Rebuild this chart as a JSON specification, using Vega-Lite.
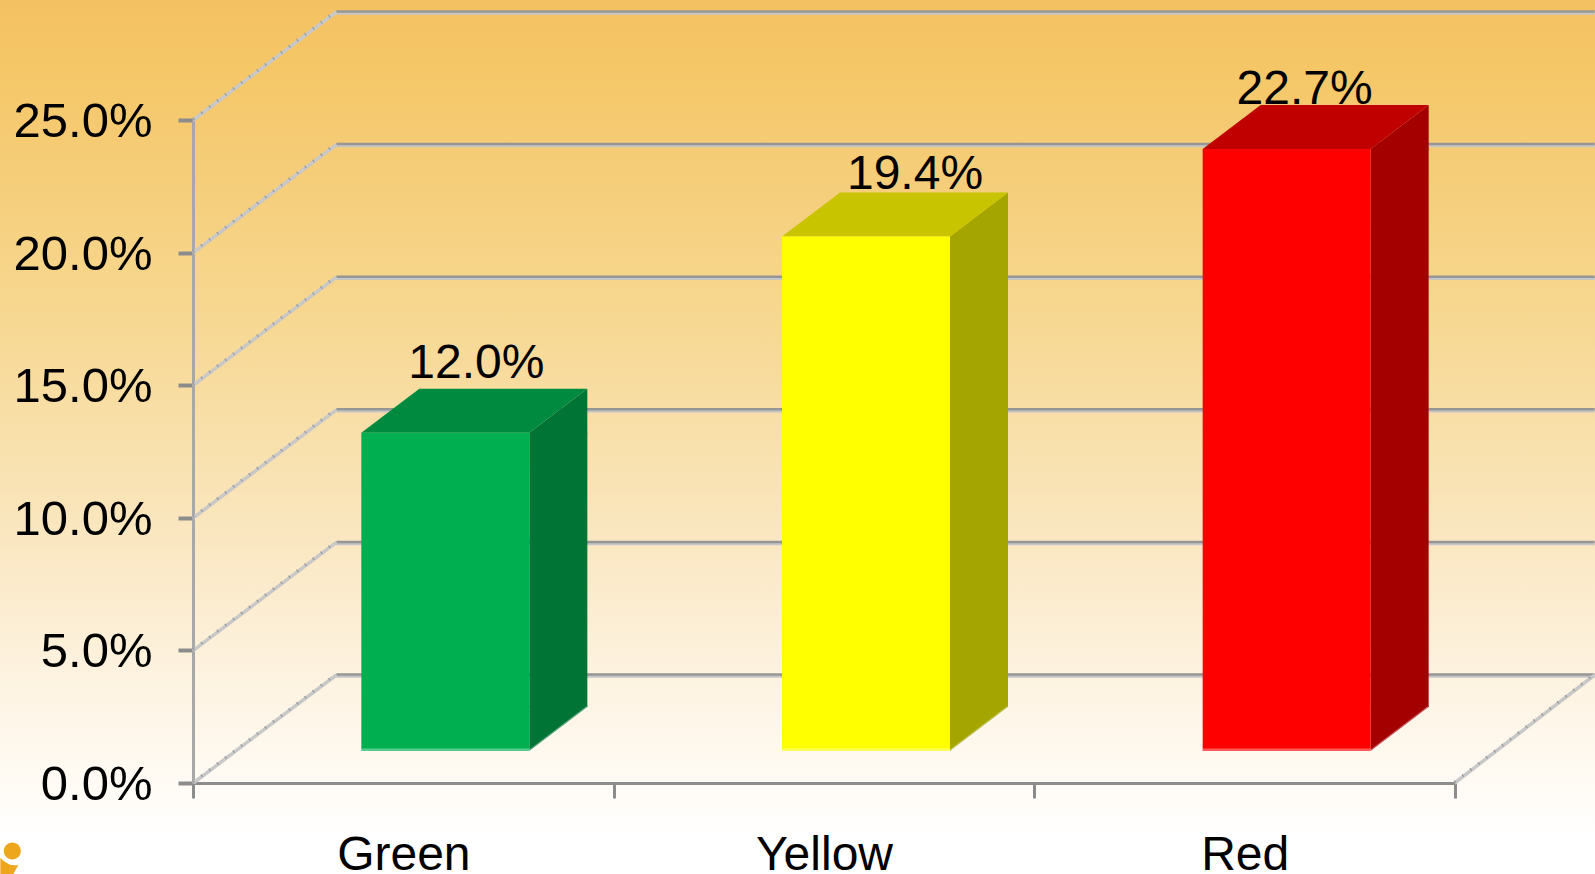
{
"$schema":"https://vega.github.io/schema/vega-lite/v6.json",
"width":1595,"height":874,"padding":0,"autosize":{"type":"none"},
"config":{"view":{"stroke":null,"fill":{"gradient":"linear","x1":0,"y1":0,"x2":0,"y2":1,"stops":[{"offset":0,"color":"#f4c162"},{"offset":0.08,"color":"#f5c767"},{"offset":0.15,"color":"#f5ca72"},{"offset":0.35,"color":"#f7d78f"},{"offset":0.6,"color":"#fae6be"},{"offset":0.75,"color":"#fdf1dc"},{"offset":0.9,"color":"#fffbf5"},{"offset":0.96,"color":"#ffffff"},{"offset":1,"color":"#ffffff"}]}},"font":"Liberation Sans"},
"datasets":{
"bars":[{"band":"Green","share":0.12},{"band":"Yellow","share":0.194},{"band":"Red","share":0.227}],
"ticks":[{"tick":0},{"tick":0.05},{"tick":0.1},{"tick":0.15},{"tick":0.2},{"tick":0.25}]
},
"data":{"name":"bars"},
"resolve":{"scale":{"color":"independent"}},
"layer":[
{"data":{"name":"ticks"},"mark":{"type":"rule","stroke":"#c6c6c6","strokeWidth":2.5,"xOffset":-67,"x2Offset":350,"yOffset":-106.5,"y2Offset":-106.5},
 "encoding":{"x":{"datum":"Green","type":"nominal"},"x2":{"datum":"Red"},"y":{"field":"tick","type":"quantitative"},"y2":{"field":"tick"}}},
{"data":{"name":"ticks"},"mark":{"type":"rule","stroke":"#969696","strokeWidth":2.5,"xOffset":-67,"x2Offset":350,"yOffset":-108.5,"y2Offset":-108.5},
 "encoding":{"x":{"datum":"Green","type":"nominal"},"x2":{"datum":"Red"},"y":{"field":"tick","type":"quantitative"},"y2":{"field":"tick"}}},
{"data":{"name":"ticks"},"mark":{"type":"rule","stroke":"#c8c8c8","strokeWidth":3.5,"xOffset":-210,"x2Offset":-67,"y2Offset":-108},
 "encoding":{"x":{"datum":"Green","type":"nominal"},"x2":{"datum":"Green"},"y":{"field":"tick","type":"quantitative"},"y2":{"field":"tick"}}},
{"data":{"name":"ticks"},"mark":{"type":"rule","stroke":"#8f8f8f","strokeWidth":3,"strokeDash":[1,9],"xOffset":-210,"x2Offset":-67,"yOffset":-1,"y2Offset":-109},
 "encoding":{"x":{"datum":"Green","type":"nominal"},"x2":{"datum":"Green"},"y":{"field":"tick","type":"quantitative"},"y2":{"field":"tick"}}},
{"data":{"values":[{"tick":0}]},"mark":{"type":"rule","stroke":"#c8c8c8","strokeWidth":3.5,"xOffset":210,"x2Offset":350,"y2Offset":-108},
 "encoding":{"x":{"datum":"Red","type":"nominal"},"x2":{"datum":"Red"},"y":{"field":"tick","type":"quantitative"},"y2":{"field":"tick"}}},
{"data":{"values":[{"tick":0}]},"mark":{"type":"rule","stroke":"#8f8f8f","strokeWidth":3,"strokeDash":[1,9],"xOffset":210,"x2Offset":350,"yOffset":-1,"y2Offset":-109},
 "encoding":{"x":{"datum":"Red","type":"nominal"},"x2":{"datum":"Red"},"y":{"field":"tick","type":"quantitative"},"y2":{"field":"tick"}}},
{"mark":{"type":"bar","size":58,"xOffset":155,"yOffset":-32,"y2Offset":-76},
 "encoding":{"x":{"field":"band","type":"nominal","scale":{"domain":["Green","Yellow","Red"],"range":[193,1455],"paddingInner":0,"paddingOuter":0},
   "axis":{"title":null,"orient":"bottom","offset":-91,"tickBand":"extent","domainColor":"#8c8c8c","domainWidth":3,"tickColor":"#8c8c8c","tickWidth":3,"tickSize":15,"labelAngle":0,"labelAlign":"center","labelFont":"Liberation Sans","labelFontSize":48,"labelColor":"#000000","labelBaseline":"alphabetic","labelPadding":71}},
  "y":{"field":"share","type":"quantitative","scale":{"domain":[0,0.25],"range":[783,120],"nice":false},
   "axis":{"title":null,"orient":"left","offset":-193,"values":[0,0.05,0.1,0.15,0.2,0.25],"format":".1%","grid":false,"domainColor":"#a8a8a8","domainWidth":3,"tickColor":"#8c8c8c","tickWidth":4,"tickSize":15,"labelFont":"Liberation Sans","labelFontSize":49,"labelColor":"#000000","labelPadding":26,"labelOffset":1.5}},
  "y2":{"datum":0},
  "color":{"field":"band","type":"nominal","legend":null,"scale":{"domain":["Green","Yellow","Red"],"range":["#007435","#a5a500","#a50000"]}}}},
{"mark":{"type":"point","filled":true,"size":4,"opacity":1,"strokeWidth":0,"shape":"M0,0 L58,-44 L58,1 L0,1 Z","xOffset":126,"yOffset":-32},
 "encoding":{"x":{"field":"band","type":"nominal"},"y":{"field":"share","type":"quantitative"},
  "color":{"field":"band","type":"nominal","legend":null,"scale":{"domain":["Green","Yellow","Red"],"range":["#007435","#a5a500","#a50000"]}}}},
{"mark":{"type":"point","filled":true,"size":4,"opacity":1,"strokeWidth":0,"shape":"M0,0 L58,-44 L58,-45 L0,-45 Z","xOffset":126,"yOffset":-32},
 "encoding":{"x":{"field":"band","type":"nominal"},"y":{"datum":0},
  "color":{"field":"band","type":"nominal","legend":null,"scale":{"domain":["Green","Yellow","Red"],"range":["#007435","#a5a500","#a50000"]}}}},
{"mark":{"type":"rule","stroke":"#ffffff","strokeOpacity":0.35,"strokeWidth":2.5,"xOffset":126,"x2Offset":184,"yOffset":-32,"y2Offset":-76},
 "encoding":{"x":{"field":"band","type":"nominal"},"x2":{"field":"band"},"y":{"datum":0},"y2":{"datum":0}}},
{"mark":{"type":"point","filled":true,"size":4,"opacity":1,"strokeWidth":0,"shape":"M-84,0 L84,0 L142,-44 L-26,-44 Z","xOffset":42,"yOffset":-32},
 "encoding":{"x":{"field":"band","type":"nominal"},"y":{"field":"share","type":"quantitative"},
  "color":{"field":"band","type":"nominal","legend":null,"scale":{"domain":["Green","Yellow","Red"],"range":["#008a3f","#c8c400","#c00000"]}}}},
{"mark":{"type":"bar","size":168,"xOffset":42,"yOffset":-32,"y2Offset":-32},
 "encoding":{"x":{"field":"band","type":"nominal"},"y":{"field":"share","type":"quantitative"},"y2":{"datum":0},
  "color":{"field":"band","type":"nominal","legend":null,"scale":{"domain":["Green","Yellow","Red"],"range":["#00b050","#ffff00","#ff0000"]}}}},
{"mark":{"type":"rule","stroke":"#ffffff","strokeOpacity":0.35,"strokeWidth":3,"xOffset":-42,"x2Offset":126,"yOffset":-33,"y2Offset":-33},
 "encoding":{"x":{"field":"band","type":"nominal"},"x2":{"field":"band"},"y":{"datum":0},"y2":{"datum":0}}},
{"mark":{"type":"text","fontSize":48,"font":"Liberation Sans","color":"#000000","baseline":"alphabetic","align":"center",
  "dx":{"expr":"datum.band==='Green'?73:datum.band==='Yellow'?91:60"},
  "dy":{"expr":"datum.band==='Green'?-87:datum.band==='Yellow'?-80:-77"}},
 "encoding":{"x":{"field":"band","type":"nominal"},"y":{"field":"share","type":"quantitative"},"text":{"field":"share","type":"quantitative","format":".1%"}}},
{"data":{"values":[{"band":"Green"}]},"mark":{"type":"point","filled":true,"size":4,"opacity":1,"strokeWidth":0,"color":"#eea61f","xOffset":-391,"yOffset":68,"shape":"M-8.5,0 A8.5,8.5 0 1 1 8.5,0 A8.5,8.5 0 1 1 -8.5,0 Z M-12,7 Q-3,16 6,14 L1,23 L-12,23 Z"},
 "encoding":{"x":{"field":"band","type":"nominal"},"y":{"datum":0}}}
]
}
